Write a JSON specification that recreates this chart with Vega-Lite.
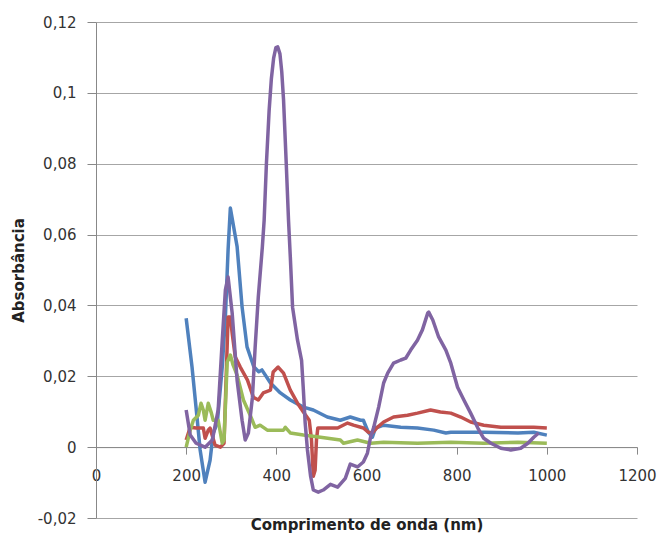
{
  "$schema": "https://vega.github.io/schema/vega-lite/v6.json",
  "width": 541,
  "height": 496,
  "autosize": "none",
  "padding": {"left": 96, "top": 22, "right": 20, "bottom": 18},
  "background": "white",
  "config": {"view": {"stroke": null}, "font": "DejaVu Sans"},
  "datasets": {
    "spectra": [
      {"s": "S1", "x": 200, "y": 0.0364}, {"s": "S1", "x": 213, "y": 0.0226}, {"s": "S1", "x": 224, "y": 0.0085}, {"s": "S1", "x": 231, "y": -0.0008},
      {"s": "S1", "x": 242, "y": -0.0099}, {"s": "S1", "x": 253, "y": -0.0037}, {"s": "S1", "x": 260, "y": 0.004}, {"s": "S1", "x": 269, "y": 0.0068},
      {"s": "S1", "x": 280, "y": 0.0226}, {"s": "S1", "x": 287, "y": 0.0367}, {"s": "S1", "x": 293, "y": 0.0557}, {"s": "S1", "x": 298, "y": 0.0675},
      {"s": "S1", "x": 313, "y": 0.0566}, {"s": "S1", "x": 324, "y": 0.0396}, {"s": "S1", "x": 335, "y": 0.0283}, {"s": "S1", "x": 350, "y": 0.0227},
      {"s": "S1", "x": 361, "y": 0.0213}, {"s": "S1", "x": 368, "y": 0.0218}, {"s": "S1", "x": 387, "y": 0.0181}, {"s": "S1", "x": 409, "y": 0.0153},
      {"s": "S1", "x": 431, "y": 0.0133}, {"s": "S1", "x": 460, "y": 0.0113}, {"s": "S1", "x": 482, "y": 0.0105}, {"s": "S1", "x": 513, "y": 0.0085},
      {"s": "S1", "x": 542, "y": 0.0076}, {"s": "S1", "x": 564, "y": 0.0085}, {"s": "S1", "x": 587, "y": 0.0076}, {"s": "S1", "x": 593, "y": 0.0076},
      {"s": "S1", "x": 604, "y": 0.0042}, {"s": "S1", "x": 613, "y": 0.0028}, {"s": "S1", "x": 620, "y": 0.0054}, {"s": "S1", "x": 638, "y": 0.0062},
      {"s": "S1", "x": 676, "y": 0.0056}, {"s": "S1", "x": 713, "y": 0.0054}, {"s": "S1", "x": 749, "y": 0.0048}, {"s": "S1", "x": 776, "y": 0.004},
      {"s": "S1", "x": 787, "y": 0.0042}, {"s": "S1", "x": 860, "y": 0.0042}, {"s": "S1", "x": 936, "y": 0.004}, {"s": "S1", "x": 971, "y": 0.0042},
      {"s": "S1", "x": 1000, "y": 0.0034},

      {"s": "S2", "x": 200, "y": 0.002}, {"s": "S2", "x": 209, "y": 0.0056}, {"s": "S2", "x": 222, "y": 0.0054}, {"s": "S2", "x": 238, "y": 0.0054},
      {"s": "S2", "x": 242, "y": 0.0025}, {"s": "S2", "x": 249, "y": 0.0048}, {"s": "S2", "x": 253, "y": 0.0054}, {"s": "S2", "x": 264, "y": 0.0006},
      {"s": "S2", "x": 276, "y": 0.0}, {"s": "S2", "x": 284, "y": 0.0011}, {"s": "S2", "x": 293, "y": 0.0367}, {"s": "S2", "x": 298, "y": 0.0367},
      {"s": "S2", "x": 302, "y": 0.0322}, {"s": "S2", "x": 309, "y": 0.0254}, {"s": "S2", "x": 320, "y": 0.0226}, {"s": "S2", "x": 336, "y": 0.0189},
      {"s": "S2", "x": 349, "y": 0.0141}, {"s": "S2", "x": 360, "y": 0.0133}, {"s": "S2", "x": 371, "y": 0.0153}, {"s": "S2", "x": 387, "y": 0.0161},
      {"s": "S2", "x": 393, "y": 0.0212}, {"s": "S2", "x": 404, "y": 0.0226}, {"s": "S2", "x": 416, "y": 0.0209}, {"s": "S2", "x": 431, "y": 0.0161},
      {"s": "S2", "x": 447, "y": 0.0124}, {"s": "S2", "x": 460, "y": 0.0099}, {"s": "S2", "x": 473, "y": 0.0076}, {"s": "S2", "x": 478, "y": 0.002},
      {"s": "S2", "x": 482, "y": -0.0082}, {"s": "S2", "x": 486, "y": -0.0065}, {"s": "S2", "x": 489, "y": 0.002}, {"s": "S2", "x": 492, "y": 0.0054},
      {"s": "S2", "x": 536, "y": 0.0054}, {"s": "S2", "x": 558, "y": 0.0068}, {"s": "S2", "x": 571, "y": 0.0062}, {"s": "S2", "x": 593, "y": 0.0054},
      {"s": "S2", "x": 604, "y": 0.0042}, {"s": "S2", "x": 613, "y": 0.004}, {"s": "S2", "x": 624, "y": 0.0056}, {"s": "S2", "x": 638, "y": 0.0071},
      {"s": "S2", "x": 660, "y": 0.0085}, {"s": "S2", "x": 691, "y": 0.009}, {"s": "S2", "x": 713, "y": 0.0096}, {"s": "S2", "x": 742, "y": 0.0105},
      {"s": "S2", "x": 764, "y": 0.0099}, {"s": "S2", "x": 787, "y": 0.0096}, {"s": "S2", "x": 809, "y": 0.0085}, {"s": "S2", "x": 831, "y": 0.0071},
      {"s": "S2", "x": 860, "y": 0.0062}, {"s": "S2", "x": 898, "y": 0.0056}, {"s": "S2", "x": 936, "y": 0.0056}, {"s": "S2", "x": 971, "y": 0.0056},
      {"s": "S2", "x": 1000, "y": 0.0054},

      {"s": "S3", "x": 200, "y": 0.0}, {"s": "S3", "x": 209, "y": 0.0048}, {"s": "S3", "x": 216, "y": 0.0076}, {"s": "S3", "x": 227, "y": 0.009},
      {"s": "S3", "x": 233, "y": 0.0124}, {"s": "S3", "x": 238, "y": 0.0105}, {"s": "S3", "x": 242, "y": 0.0076}, {"s": "S3", "x": 249, "y": 0.0124},
      {"s": "S3", "x": 256, "y": 0.0096}, {"s": "S3", "x": 260, "y": 0.0076}, {"s": "S3", "x": 271, "y": 0.0076}, {"s": "S3", "x": 280, "y": 0.0011},
      {"s": "S3", "x": 284, "y": 0.002}, {"s": "S3", "x": 291, "y": 0.024}, {"s": "S3", "x": 298, "y": 0.026}, {"s": "S3", "x": 304, "y": 0.0232},
      {"s": "S3", "x": 313, "y": 0.0203}, {"s": "S3", "x": 327, "y": 0.0133}, {"s": "S3", "x": 342, "y": 0.009}, {"s": "S3", "x": 353, "y": 0.0056},
      {"s": "S3", "x": 364, "y": 0.0062}, {"s": "S3", "x": 380, "y": 0.0048}, {"s": "S3", "x": 416, "y": 0.0048}, {"s": "S3", "x": 420, "y": 0.0056},
      {"s": "S3", "x": 431, "y": 0.004}, {"s": "S3", "x": 460, "y": 0.0034}, {"s": "S3", "x": 498, "y": 0.0028}, {"s": "S3", "x": 542, "y": 0.002},
      {"s": "S3", "x": 549, "y": 0.0011}, {"s": "S3", "x": 580, "y": 0.002}, {"s": "S3", "x": 609, "y": 0.0011}, {"s": "S3", "x": 638, "y": 0.0014},
      {"s": "S3", "x": 713, "y": 0.0011}, {"s": "S3", "x": 787, "y": 0.0014}, {"s": "S3", "x": 860, "y": 0.0011}, {"s": "S3", "x": 936, "y": 0.0014},
      {"s": "S3", "x": 1000, "y": 0.0011},

      {"s": "S4", "x": 200, "y": 0.0105}, {"s": "S4", "x": 209, "y": 0.0034}, {"s": "S4", "x": 222, "y": 0.0011}, {"s": "S4", "x": 242, "y": 0.0},
      {"s": "S4", "x": 258, "y": 0.002}, {"s": "S4", "x": 271, "y": 0.0105}, {"s": "S4", "x": 280, "y": 0.03}, {"s": "S4", "x": 287, "y": 0.0444},
      {"s": "S4", "x": 293, "y": 0.048}, {"s": "S4", "x": 302, "y": 0.0379}, {"s": "S4", "x": 313, "y": 0.0189}, {"s": "S4", "x": 324, "y": 0.0076},
      {"s": "S4", "x": 331, "y": 0.002}, {"s": "S4", "x": 338, "y": 0.004}, {"s": "S4", "x": 347, "y": 0.0141}, {"s": "S4", "x": 353, "y": 0.0282},
      {"s": "S4", "x": 360, "y": 0.0424}, {"s": "S4", "x": 369, "y": 0.0565}, {"s": "S4", "x": 373, "y": 0.0641}, {"s": "S4", "x": 378, "y": 0.08},
      {"s": "S4", "x": 384, "y": 0.095}, {"s": "S4", "x": 389, "y": 0.104}, {"s": "S4", "x": 394, "y": 0.1098}, {"s": "S4", "x": 399, "y": 0.1128},
      {"s": "S4", "x": 403, "y": 0.113}, {"s": "S4", "x": 408, "y": 0.111}, {"s": "S4", "x": 412, "y": 0.106},
      {"s": "S4", "x": 416, "y": 0.098}, {"s": "S4", "x": 422, "y": 0.08}, {"s": "S4", "x": 427, "y": 0.0641}, {"s": "S4", "x": 431, "y": 0.0537},
      {"s": "S4", "x": 436, "y": 0.0395}, {"s": "S4", "x": 447, "y": 0.0302}, {"s": "S4", "x": 456, "y": 0.0245}, {"s": "S4", "x": 460, "y": 0.0161},
      {"s": "S4", "x": 464, "y": 0.0068}, {"s": "S4", "x": 469, "y": -0.0008}, {"s": "S4", "x": 476, "y": -0.0082}, {"s": "S4", "x": 482, "y": -0.0121},
      {"s": "S4", "x": 493, "y": -0.0127}, {"s": "S4", "x": 504, "y": -0.0121}, {"s": "S4", "x": 520, "y": -0.0105}, {"s": "S4", "x": 536, "y": -0.0113},
      {"s": "S4", "x": 553, "y": -0.0088}, {"s": "S4", "x": 564, "y": -0.0048}, {"s": "S4", "x": 580, "y": -0.0056}, {"s": "S4", "x": 593, "y": -0.0042},
      {"s": "S4", "x": 602, "y": -0.0017}, {"s": "S4", "x": 609, "y": 0.0028}, {"s": "S4", "x": 616, "y": 0.0056}, {"s": "S4", "x": 627, "y": 0.0113},
      {"s": "S4", "x": 638, "y": 0.0181}, {"s": "S4", "x": 647, "y": 0.0209}, {"s": "S4", "x": 660, "y": 0.0237}, {"s": "S4", "x": 676, "y": 0.0246},
      {"s": "S4", "x": 687, "y": 0.0251}, {"s": "S4", "x": 698, "y": 0.0274}, {"s": "S4", "x": 713, "y": 0.0302}, {"s": "S4", "x": 724, "y": 0.0331},
      {"s": "S4", "x": 736, "y": 0.0379}, {"s": "S4", "x": 738, "y": 0.0381}, {"s": "S4", "x": 747, "y": 0.0359}, {"s": "S4", "x": 760, "y": 0.0311},
      {"s": "S4", "x": 776, "y": 0.0274}, {"s": "S4", "x": 787, "y": 0.0237}, {"s": "S4", "x": 802, "y": 0.0169}, {"s": "S4", "x": 816, "y": 0.0133},
      {"s": "S4", "x": 831, "y": 0.0096}, {"s": "S4", "x": 847, "y": 0.0054}, {"s": "S4", "x": 860, "y": 0.0025}, {"s": "S4", "x": 876, "y": 0.0011},
      {"s": "S4", "x": 898, "y": -0.0003}, {"s": "S4", "x": 920, "y": -0.0008}, {"s": "S4", "x": 942, "y": -0.0003}, {"s": "S4", "x": 958, "y": 0.0011},
      {"s": "S4", "x": 971, "y": 0.0028}, {"s": "S4", "x": 982, "y": 0.004}
    ]
  },
  "data": {"name": "spectra"},
  "mark": {"type": "line", "strokeWidth": 3.5, "interpolate": "linear", "strokeJoin": "round"},
  "encoding": {
    "x": {
      "field": "x", "type": "quantitative",
      "scale": {"domain": [0, 1200], "nice": false, "zero": false},
      "axis": {
        "values": [0, 200, 400, 600, 800, 1000, 1200],
        "format": "d",
        "grid": false, "offset": -70.9,
        "domainColor": "#888888", "tickColor": "#888888", "tickSize": 7,
        "labelPadding": 14, "labelFontSize": 15, "labelColor": "#333333", "labelFont": "DejaVu Sans",
        "labelFlush": false, "labelOverlap": false,
        "title": "Comprimento de onda (nm)", "titleFont": "DejaVu Sans", "titleFontSize": 15, "titleFontWeight": "bold",
        "titleColor": "#222222", "titleY": 77, "titleBaseline": "middle"
      }
    },
    "y": {
      "field": "y", "type": "quantitative",
      "scale": {"domain": [-0.02, 0.12], "nice": false, "zero": false},
      "axis": {
        "values": [-0.02, 0, 0.02, 0.04, 0.06, 0.08, 0.1, 0.12],
        "gridColor": "#A6A6A6", "gridWidth": 1,
        "domainColor": "#888888", "tickColor": "#888888", "tickSize": 9,
        "labelPadding": 11, "labelFontSize": 15, "labelColor": "#333333", "labelFont": "DejaVu Sans",
        "labelExpr": "replace(replace(format(datum.value, '.2~f'), '.', ','), '\u2212', '-')",
        "title": "Absorbância", "titleFont": "DejaVu Sans", "titleFontSize": 15, "titleFontWeight": "bold",
        "titleColor": "#222222", "titleX": -78, "titleBaseline": "middle"
      }
    },
    "color": {
      "field": "s", "type": "nominal",
      "scale": {"domain": ["S1", "S2", "S3", "S4"], "range": ["#4F81BD", "#C0504D", "#9BBB59", "#8064A2"]},
      "legend": null
    }
  }
}
